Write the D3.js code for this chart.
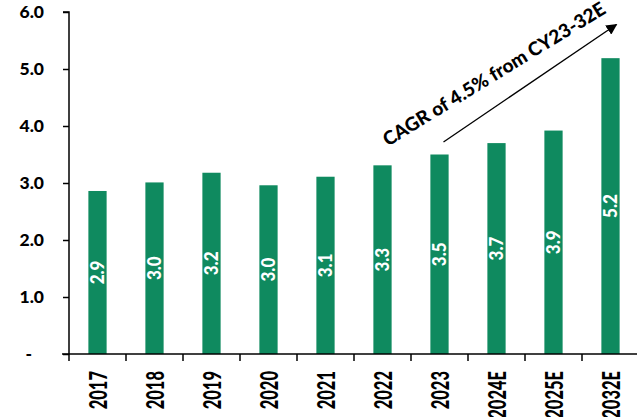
<!DOCTYPE html>
<html>
<head>
<meta charset="utf-8">
<script src="https://cdn.jsdelivr.net/npm/d3@7"></script>
<style>
  html, body { margin: 0; padding: 0; background: #fff; }
  svg { display: block; font-family: Lato, "Open Sans", sans-serif; }
</style>
</head>
<body>
<svg id="chart" width="637" height="417"></svg>
<script>
// Yearly values (actual and estimated)
const years = ["2017", "2018", "2019", "2020", "2021", "2022", "2023", "2024E", "2025E", "2032E"];
const values = [2.86, 3.01, 3.18, 2.96, 3.11, 3.31, 3.5, 3.7, 3.92, 5.19];
const yTicks = [0, 1, 2, 3, 4, 5, 6];
const cagrNote = "CAGR of 4.5% from CY23-32E";

const barColor = "#0f8a5f";
const svg = d3.select("#chart");
const margin = { left: 69, right: -2, top: 12, bottom: 63 };
const W = 637, H = 417;

const x = d3.scaleBand()
  .domain(years)
  .range([margin.left, W - margin.right])
  .paddingInner(0.68)
  .paddingOuter(0.34);

const y = d3.scaleLinear()
  .domain([0, 6])
  .range([H - margin.bottom, margin.top]);

// Bars
svg.append("g")
  .selectAll("rect")
  .data(years)
  .join("rect")
  .attr("x", d => x(d))
  .attr("width", x.bandwidth())
  .attr("y", (d, i) => y(values[i]))
  .attr("height", (d, i) => y(0) - y(values[i]))
  .attr("fill", barColor);

// Value labels, rotated, centred in each bar
svg.append("g")
  .selectAll("text")
  .data(years)
  .join("text")
  .attr("transform", (d, i) => {
    const cx = x(d) + x.bandwidth() / 2;
    const cy = (y(values[i]) + y(0)) / 2;
    return `translate(${cx},${cy}) rotate(-90) scale(1,1.1)`;
  })
  .attr("text-anchor", "middle")
  .attr("dy", "0.36em")
  .attr("fill", "#fff")
  .attr("font-weight", 900)
  .attr("font-size", 17)
  .text((d, i) => d3.format(".1f")(values[i]));

// Y axis
const yAxis = d3.axisLeft(y)
  .tickValues(yTicks)
  .tickSize(6)
  .tickPadding(19)
  .tickFormat(v => v === 0 ? "-" : d3.format(".1f")(v));

const gy = svg.append("g")
  .attr("transform", `translate(${margin.left},0)`)
  .call(yAxis);
gy.select(".domain").attr("d", `M-6,${y(6)}H0V${y(0)}`).attr("stroke", "#000").attr("stroke-width", 1.5);
gy.selectAll(".tick line").attr("stroke", "#000").attr("stroke-width", 1.5);
gy.selectAll(".tick text")
  .attr("fill", "#000")
  .attr("font-size", 17.5)
  .attr("font-weight", 900)
  .attr("font-family", "Lato, sans-serif");
gy.selectAll(".tick").filter(d => d === 0).select("text").attr("dx", -12);

// X axis: baseline and ticks between categories
const step = x.step();
const gx = svg.append("g").attr("transform", `translate(0,${y(0)})`);
gx.append("line")
  .attr("x1", margin.left - 7).attr("x2", W)
  .attr("stroke", "#000").attr("stroke-width", 1.5);
const boundaries = d3.range(years.length).map(i => margin.left + i * step);
gx.selectAll("line.tk")
  .data(boundaries)
  .join("line")
  .attr("class", "tk")
  .attr("x1", d => d).attr("x2", d => d)
  .attr("y1", 0).attr("y2", 7)
  .attr("stroke", "#000").attr("stroke-width", 1.5);

// Category labels, rotated
gx.selectAll("text")
  .data(years)
  .join("text")
  .attr("transform", d => `translate(${x(d) + x.bandwidth() / 2 + 1},17) rotate(-90) scale(1,1.45)`)
  .attr("text-anchor", "end")
  .attr("dy", "0.36em")
  .attr("fill", "#000")
  .attr("font-weight", 900)
  .attr("font-size", 16.5)
  .text(d => d);

// Growth arrow annotation
svg.append("defs").append("marker")
  .attr("id", "arrowhead")
  .attr("viewBox", "0 0 10 10")
  .attr("refX", 9).attr("refY", 5)
  .attr("markerWidth", 11).attr("markerHeight", 11)
  .attr("markerUnits", "userSpaceOnUse")
  .attr("orient", "auto")
  .append("path")
  .attr("d", "M0,0L10,5L0,10Z")
  .attr("fill", "#000");

const a0 = [x("2023") + x.bandwidth() / 2 + 4, y(3.72)];
const a1 = [x("2032E") + 15, y(5.78)];
svg.append("line")
  .attr("x1", a0[0]).attr("y1", a0[1])
  .attr("x2", a1[0]).attr("y2", a1[1])
  .attr("stroke", "#000").attr("stroke-width", 1.3)
  .attr("marker-end", "url(#arrowhead)");

svg.append("text")
  .attr("transform", `translate(494,74) rotate(-31.5)`)
  .attr("text-anchor", "middle")
  .attr("dy", "0.35em")
  .attr("fill", "#000")
  .attr("font-weight", 900)
  .attr("font-size", 19)
  .text(cagrNote);
</script>
</body>
</html>
